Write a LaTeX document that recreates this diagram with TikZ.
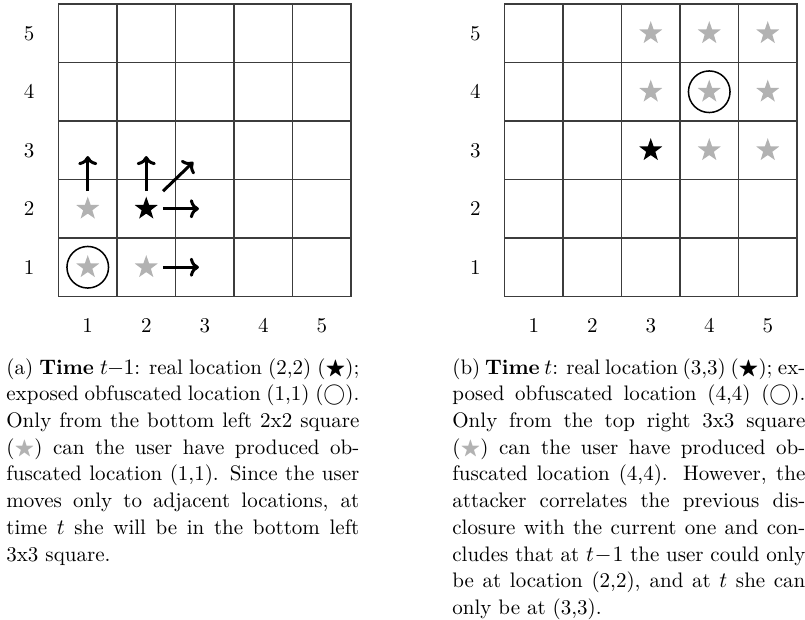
\documentclass[tikz,border=0pt]{standalone}
\usepackage{amssymb}
\usetikzlibrary{shapes.geometric,arrows.meta}
\definecolor{stargray}{RGB}{178,178,178}
\definecolor{gridcol}{RGB}{60,60,60}
\begin{document}
\begin{tikzpicture}[x=0.5pt,y=-0.5pt,
  gridline/.style={draw=gridcol,line width=0.6pt},
  gstar/.style={star,star points=5,star point ratio=2.5,fill=stargray,draw=none,inner sep=0pt,minimum size=12.1pt},
  bstar/.style={gstar,fill=black},
  ring/.style={circle,draw=black,line width=0.75pt,minimum size=20.8pt,inner sep=0pt},
  lbl/.style={font=\fontsize{10.5}{12}\selectfont,inner sep=0pt},
  mv/.style={-{Computer Modern Rightarrow[length=4.5pt,width=9.5pt]},line width=1.5pt},
  captext/.style={text width=176.5pt,align=justify,inner sep=0pt,anchor=north west,font=\fontsize{10.5}{13.35}\selectfont}
]
\useasboundingbox (0,0) rectangle (805,620);

% ---------- left grid (a) ----------
\begin{scope}[shift={(29.25,325.75)},x=29.25pt,y=29.25pt]
  \draw[gridline] (0.5,0.5) rectangle (5.5,5.5);
  \foreach \i in {1.5,2.5,3.5,4.5} {
    \draw[gridline] (\i,0.5) -- (\i,5.5);
    \draw[gridline] (0.5,\i) -- (5.5,\i);
  }
  \foreach \i in {1,...,5} {
    \node[lbl] (La-r\i) at (0,\i) {\i};
    \node[lbl] (La-c\i) at (\i,0) {\i};
  }
  \node[gstar] (La-s11) at (1,1) {};
  \node[gstar] (La-s21) at (2,1) {};
  \node[gstar] (La-s12) at (1,2) {};
  \node[bstar] (La-s22) at (2,2) {};
  \node[ring]  (La-o11) at (1,1) {};
  \coordinate (a1s) at (1,2.3);     \coordinate (a1e) at (1,2.9);
  \coordinate (a2s) at (2,2.3);     \coordinate (a2e) at (2,2.9);
  \coordinate (a3s) at (2.286,2.3); \coordinate (a3e) at (2.805,2.8);
  \coordinate (a4s) at (2.286,2);   \coordinate (a4e) at (2.9,2);
  \coordinate (a5s) at (2.286,1);   \coordinate (a5e) at (2.9,1);
  \draw[mv] (a1s) -- (a1e);
  \draw[mv] (a2s) -- (a2e);
  \draw[mv] (a3s) -- (a3e);
  \draw[mv] (a4s) -- (a4e);
  \draw[mv] (a5s) -- (a5e);
\end{scope}

% ---------- right grid (b) ----------
\begin{scope}[shift={(475.25,325.75)},x=29.25pt,y=29.25pt]
  \draw[gridline] (0.5,0.5) rectangle (5.5,5.5);
  \foreach \i in {1.5,2.5,3.5,4.5} {
    \draw[gridline] (\i,0.5) -- (\i,5.5);
    \draw[gridline] (0.5,\i) -- (5.5,\i);
  }
  \foreach \i in {1,...,5} {
    \node[lbl] (Lb-r\i) at (0,\i) {\i};
    \node[lbl] (Lb-c\i) at (\i,0) {\i};
  }
  \foreach \c/\r in {3/5,4/5,5/5,3/4,4/4,5/4,4/3,5/3}
    \node[gstar] (Lb-s\c\r) at (\c,\r) {};
  \node[bstar] (Lb-s33) at (3,3) {};
  \node[ring]  (Lb-o44) at (4,4) {};
\end{scope}

% ---------- captions ----------
\node[captext] (capa) at (6,358) {\hyphenpenalty=10000
(a) \textbf{Time} $t\!-\!1$: real location (2,2) ($\bigstar$);\linebreak
exposed obfuscated location (1,1) ($\bigcirc$).\linebreak
Only from the bottom left 2x2 square\linebreak
({\color{stargray}$\bigstar$}) can the user have produced ob-\linebreak
fuscated location (1,1). Since the user\linebreak
moves only to adjacent locations, at\linebreak
time $t$ she will be in the bottom left\linebreak
3x3 square.};

\node[captext] (capb) at (452,358) {\hyphenpenalty=10000
(b) \textbf{Time} $t$: real location (3,3) ($\bigstar$); ex-\linebreak
posed obfuscated location (4,4) ($\bigcirc$).\linebreak
Only from the top right 3x3 square\linebreak
({\color{stargray}$\bigstar$}) can the user have produced ob-\linebreak
fuscated location (4,4). However, the\linebreak
attacker correlates the previous dis-\linebreak
closure with the current one and con-\linebreak
cludes that at $t\!-\!1$ the user could only\linebreak
be at location (2,2), and at $t$ she can\linebreak
only be at (3,3).};
\end{tikzpicture}
\end{document}
